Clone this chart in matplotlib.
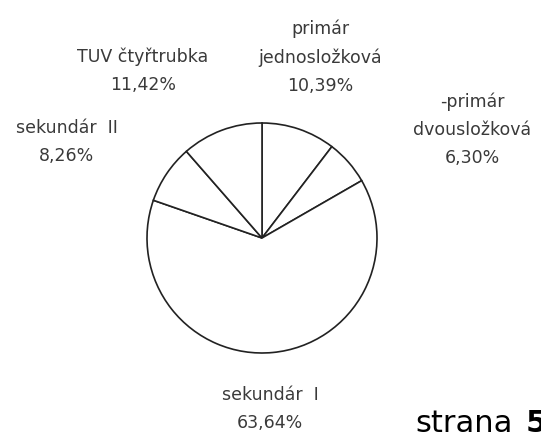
import matplotlib
matplotlib.use('Agg')
import matplotlib.pyplot as plt

# data (clockwise from 12 o'clock)
labels = ['primár\njednosložková', '-primár\ndvousložková', 'sekundár  I',
          'sekundár  II', 'TUV čtyřtrubka']
shares = [10.39, 6.30, 63.64, 8.26, 11.42]
pct_text = ['10,39%', '6,30%', '63,64%', '8,26%', '11,42%']

# label centres in pixels (x, y from top)
label_pos = [(320, 57), (472, 130), (270, 409), (67, 142), (143, 71)]

W, H = 541, 432
fig = plt.figure(figsize=(W / 100, H / 100), dpi=100)
ax = fig.add_axes([0, 0, 1, 1])
ax.axis('off')

ax.pie(shares, startangle=90, counterclock=False, center=(262, H - 238), radius=115,
       colors=['white'] * len(shares),
       wedgeprops=dict(edgecolor='#222222', linewidth=1.2))
ax.set_xlim(0, W)
ax.set_ylim(0, H)
ax.set_aspect('equal')

for lab, pct, (x, y) in zip(labels, pct_text, label_pos):
    ax.text(x, H - y, lab + '\n' + pct, ha='center', va='center', fontsize=12.5,
            family='DejaVu Sans', color='#3a3a3a', linespacing=1.72)

# page number, cut at the bottom edge like the scan
fig.text(415 / W, 0, 'strana', ha='left', va='baseline', fontsize=22,
         family='DejaVu Sans', color='black')
fig.text(526 / W, 0, '5', ha='left', va='baseline', fontsize=22,
         family='DejaVu Sans', weight='bold', color='black')

fig.savefig('out.png', dpi=100)
